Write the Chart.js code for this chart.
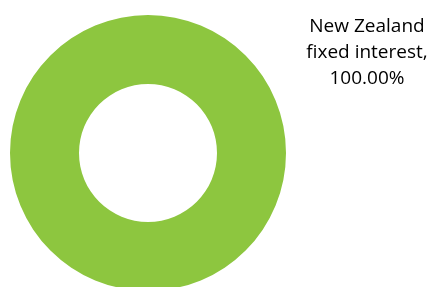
<!DOCTYPE html>
<html>
<head>
<meta charset="utf-8">
<script src="https://cdn.jsdelivr.net/npm/chart.js@4"></script>
<style>
	html, body { margin: 0; padding: 0; background: #fff; overflow: hidden; }
	#wrap { position: relative; width: 439px; height: 291px; }
</style>
</head>
<body>
<div id="wrap"><canvas id="myChart"></canvas></div>
<script>
// data
const categories = ['New Zealand fixed interest'];
const values = [100];
const labelLines = [['New Zealand', 'fixed interest,', '100.00%']];

// draw the data label to the right of the ring
const outsideLabel = {
	id: 'outsideLabel',
	afterDraw(chart) {
		const ctx = chart.ctx;
		const area = chart.chartArea;
		ctx.save();
		ctx.fillStyle = '#000';
		ctx.font = '19px "Open Sans", sans-serif';
		ctx.textAlign = 'center';
		ctx.textBaseline = 'alphabetic';
		labelLines[0].forEach((line, i) => {
			ctx.fillText(line, area.right + 81, 32 + i * 26);
		});
		ctx.restore();
	}
};

const ctx = document.getElementById('myChart');
const myChart = new Chart(ctx, {
	type: 'doughnut',
	data: {
		labels: categories,
		datasets: [{
			data: values,
			backgroundColor: '#8DC63F',
			borderWidth: 0,
		}],
	},
	options: {
		responsive: true,
		maintainAspectRatio: false,
		animation: false,
		cutout: '50%',
		layout: {
			padding: { left: 10, right: 153, top: 15, bottom: 0 },
		},
		plugins: {
			legend: { display: false },
			tooltip: { enabled: false },
		},
	},
	plugins: [outsideLabel],
});
</script>
</body>
</html>
